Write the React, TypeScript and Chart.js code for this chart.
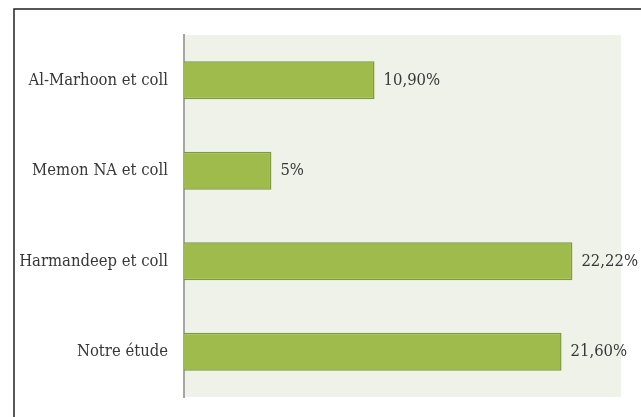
import React, { useEffect, useRef } from "react";
import { Chart, registerables } from "chart.js";

Chart.register(...registerables);

const categories = ["Al-Marhoon et coll", "Memon NA et coll", "Harmandeep et coll", "Notre étude"];
const values = [10.9, 5, 22.22, 21.6];
const valueLabels = ["10,90%", "5%", "22,22%", "21,60%"];

const FONT = "'DejaVu Serif Condensed', 'DejaVu Serif', serif";

const decorPlugin = {
  id: "decor",
  beforeDraw(chart: any) {
    const { ctx, chartArea } = chart;
    ctx.save();
    ctx.fillStyle = "#ffffff";
    ctx.fillRect(0, 0, chart.width, chart.height);
    ctx.fillStyle = "#eff2e9";
    ctx.fillRect(chartArea.left, chartArea.top, chartArea.right - chartArea.left, chartArea.bottom - chartArea.top);
    // outer frame (top and left only visible)
    ctx.strokeStyle = "#222222";
    ctx.lineWidth = 1.5;
    ctx.beginPath();
    ctx.moveTo(14, chart.height + 2);
    ctx.lineTo(14, 9);
    ctx.lineTo(chart.width + 2, 9);
    ctx.stroke();
    ctx.restore();
  },
  afterDatasetsDraw(chart: any) {
    const { ctx } = chart;
    const meta = chart.getDatasetMeta(0);
    ctx.save();
    ctx.fillStyle = "#383838";
    ctx.font = `16.5px ${FONT}`;
    ctx.textAlign = "left";
    ctx.textBaseline = "middle";
    meta.data.forEach((bar: any, i: number) => {
      ctx.fillText(valueLabels[i], bar.x + 9, bar.y);
    });
    ctx.restore();
  },
};

export default function App() {
  const ref = useRef<HTMLCanvasElement>(null);
  useEffect(() => {
    if (!ref.current) return;
    const chart = new Chart(ref.current, {
      type: "bar",
      data: {
        labels: categories,
        datasets: [
          {
            data: values,
            backgroundColor: "#9fbb4b",
            borderColor: "#7d9a3c",
            borderWidth: 1.5,
            categoryPercentage: 1,
            barPercentage: 0.42,
          },
        ],
      },
      options: {
        indexAxis: "y",
        animation: false,
        responsive: false,
        maintainAspectRatio: false,
        layout: { padding: { top: 35, right: 20, bottom: 20, left: 0 } },
        plugins: { legend: { display: false }, tooltip: { enabled: false } },
        scales: {
          x: { display: false, min: 0, max: 25 },
          y: {
            grid: { display: false, drawTicks: false },
            border: { display: true, color: "#a6a6a6", width: 2 },
            ticks: { color: "#383838", font: { family: FONT, size: 16.5 }, padding: 16 },
            afterFit(scale: any) {
              scale.width = 184;
              scale.paddingTop = 0;
              scale.paddingBottom = 0;
            },
          },
        },
      },
      plugins: [decorPlugin],
    });
    return () => chart.destroy();
  }, []);
  return (
    <div style={{ position: "fixed", left: 0, top: 0, width: 641, height: 417 }}>
      <canvas ref={ref} width={641} height={417} style={{ display: "block" }} />
    </div>
  );
}
